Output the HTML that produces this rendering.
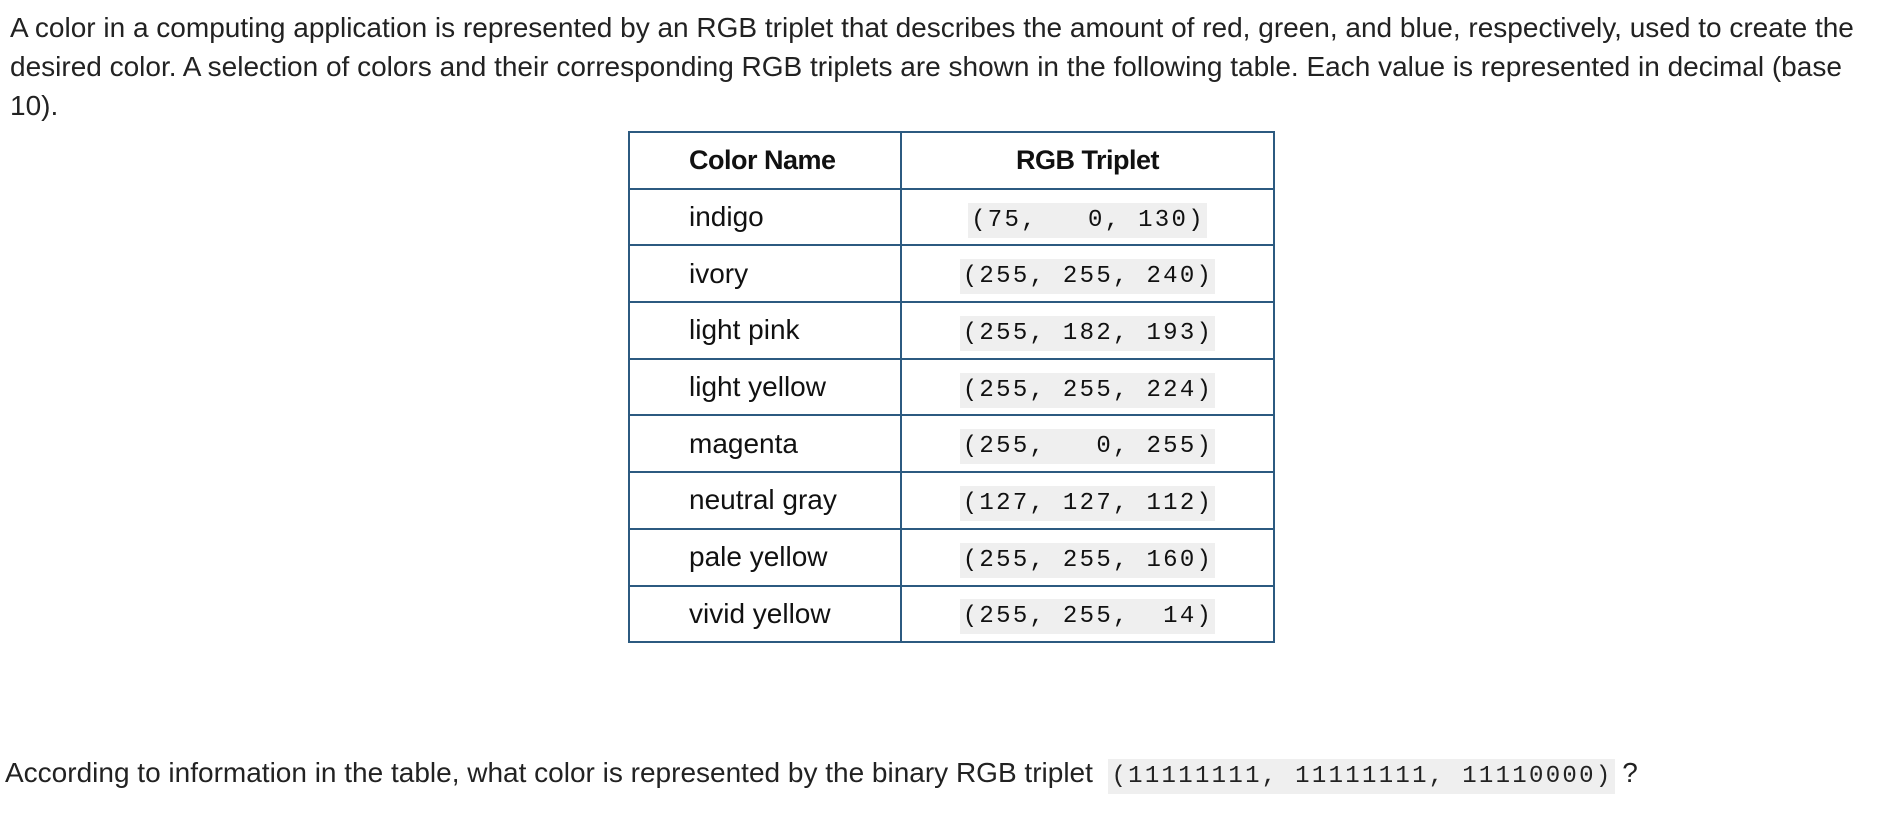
<!DOCTYPE html>
<html><head><style>
body{margin:0;width:1904px;height:818px;background:#fff;font-family:"Liberation Sans",sans-serif;color:#222;position:relative;overflow:hidden}
.p{position:absolute;left:10px;top:8px;width:1860px;font-size:28px;line-height:39px}
table{position:absolute;left:628px;top:131px;border-collapse:collapse}
td,th{border:2px solid #2c5a80;height:54.7px;padding:0;font-size:28px;color:#111}
th{font-weight:bold;letter-spacing:-0.5px;font-size:27px}
td.n,th.n{width:272px;text-align:left;padding-left:59px;box-sizing:border-box}
td.v,th.v{width:371px;text-align:center}
code{font-family:"Liberation Mono",monospace;font-size:24px;letter-spacing:2.3px;background:#efefef;padding:4px 2px 4px 3px;white-space:pre}
.q{position:absolute;left:5px;top:757px;font-size:28px;white-space:nowrap}
.q code{font-size:24px}
</style></head><body>
<div class="p">A color in a computing application is represented by an RGB triplet that describes the amount of red, green, and blue, respectively, used to create the desired color. A selection of colors and their corresponding RGB triplets are shown in the following table. Each value is represented in decimal (base 10).</div>
<table>
<tr><th class="n">Color Name</th><th class="v">RGB Triplet</th></tr>
<tr><td class="n">indigo</td><td class="v"><code>(75,   0, 130)</code></td></tr>
<tr><td class="n">ivory</td><td class="v"><code>(255, 255, 240)</code></td></tr>
<tr><td class="n">light pink</td><td class="v"><code>(255, 182, 193)</code></td></tr>
<tr><td class="n">light yellow</td><td class="v"><code>(255, 255, 224)</code></td></tr>
<tr><td class="n">magenta</td><td class="v"><code>(255,   0, 255)</code></td></tr>
<tr><td class="n">neutral gray</td><td class="v"><code>(127, 127, 112)</code></td></tr>
<tr><td class="n">pale yellow</td><td class="v"><code>(255, 255, 160)</code></td></tr>
<tr><td class="n">vivid yellow</td><td class="v"><code>(255, 255,  14)</code></td></tr>
</table>
<div class="q">According to information in the table, what color is represented by the binary RGB triplet &nbsp;<code>(11111111, 11111111, 11110000)</code> ?</div>
</body></html>
